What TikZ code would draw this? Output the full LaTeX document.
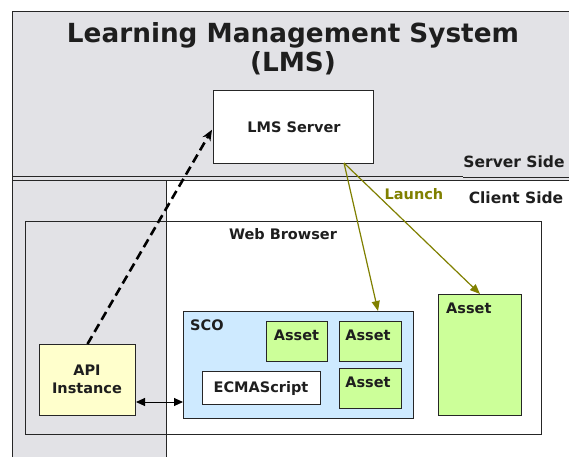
\documentclass[tikz,border=0pt]{standalone}
\usepackage{fontspec}
\setmainfont{DejaVu Sans}
\usetikzlibrary{arrows.meta}
\definecolor{bggray}{RGB}{226,226,230}
\definecolor{scoblue}{RGB}{206,234,255}
\definecolor{assetgreen}{RGB}{204,255,153}
\definecolor{apiyellow}{RGB}{255,255,204}
\definecolor{olive}{RGB}{128,128,0}
\definecolor{txt}{RGB}{30,30,30}
\tikzset{
  box/.style={draw=black!85, line width=1pt, inner sep=0pt, anchor=north west},
  lbl/.style={font=\fontsize{14.5}{17}\selectfont\bfseries, text=txt, inner sep=0pt, anchor=base},
  side/.style={font=\fontsize{15.5}{18}\selectfont\bfseries, text=txt, inner sep=0pt, anchor=base},
  ttl/.style={font=\fontsize{26.3}{30}\selectfont\bfseries, text=txt, inner sep=0pt, anchor=base},
  frame/.style={draw=black!85, line width=1pt},
  launcharrow/.style={draw=olive, line width=1.2pt, -{Triangle[length=10pt,width=8pt]}},
}
\begin{document}
\begin{tikzpicture}[x=1pt,y=-1pt]
\useasboundingbox (0,0) rectangle (569,457);
% regions
\fill[white] (0,0) rectangle (569,457);
\fill[bggray] (12,12) rectangle (569,180);
\fill[bggray] (12,180) rectangle (166,457);
\draw[frame] (12,457) -- (12,12) -- (569,12);
\draw[frame] (12,176) -- (463,176);
\draw[frame] (463,177.5) -- (569,177.5);
\draw[frame] (12,180.5) -- (569,180.5);
\draw[frame] (166,180.5) -- (166,457);
% title
\node[ttl] (t1) at (293,43) {Learning Management System};
\node[ttl] (t2) at (293,72) {(LMS)};
% server
\node[box, fill=white, minimum width=160pt, minimum height=73pt] (lms) at (213,90) {};
\node[lbl] (lmst) at (294,132) {LMS Server};
\node[side] (ss) at (514,167) {Server Side};
\node[side] (cs) at (516,203) {Client Side};
\node[lbl, text=olive] (launch) at (414,199) {Launch};
% web browser
\node[box, minimum width=516pt, minimum height=213pt] (wb) at (25,221) {};
\node[lbl] (wbt) at (283,239) {Web Browser};
% SCO
\node[box, fill=scoblue, minimum width=230pt, minimum height=107pt] (sco) at (183,311) {};
\node[lbl, anchor=base west] (scot) at (190,330) {SCO};
\node[box, fill=assetgreen, minimum width=61pt, minimum height=40pt] (a1) at (266,321) {};
\node[lbl] (a1t) at (296.5,340) {Asset};
\node[box, fill=assetgreen, minimum width=62pt, minimum height=40pt] (a2) at (339,321) {};
\node[lbl] (a2t) at (368,340) {Asset};
\node[box, fill=assetgreen, minimum width=62pt, minimum height=40pt] (a3) at (339,368) {};
\node[lbl] (a3t) at (368,387) {Asset};
\node[box, fill=white, minimum width=118pt, minimum height=33pt] (ecma) at (202,371) {};
\node[lbl] (ecmat) at (261,392) {ECMAScript};
% big asset
\node[box, fill=assetgreen, minimum width=83pt, minimum height=121pt] (ba) at (438,294) {};
\node[lbl, anchor=base west] (bat) at (446,313) {Asset};
% API
\node[box, fill=apiyellow, minimum width=96pt, minimum height=71pt] (api) at (39,344) {};
\node[lbl] (apit1) at (87,375) {API};
\node[lbl] (apit2) at (87,393) {Instance};
% connectors
\coordinate (ls) at (344,163);
\coordinate (scoin) at (378,311);
\coordinate (arrowy) at (0,402);
\draw[line width=2.6pt, dash pattern=on 9pt off 5pt, -{Stealth[length=11pt,width=9pt]}, shorten >=2pt] (api.north) -- (lms.west |- 0,128);
\draw[launcharrow] (ls) -- (scoin);
\draw[launcharrow] (ls) -- (ba.north);
\draw[line width=1pt, {Triangle[length=9pt,width=8pt]}-{Triangle[length=9pt,width=8pt]}] (api.east |- arrowy) -- (sco.west |- arrowy);
\end{tikzpicture}
\end{document}
